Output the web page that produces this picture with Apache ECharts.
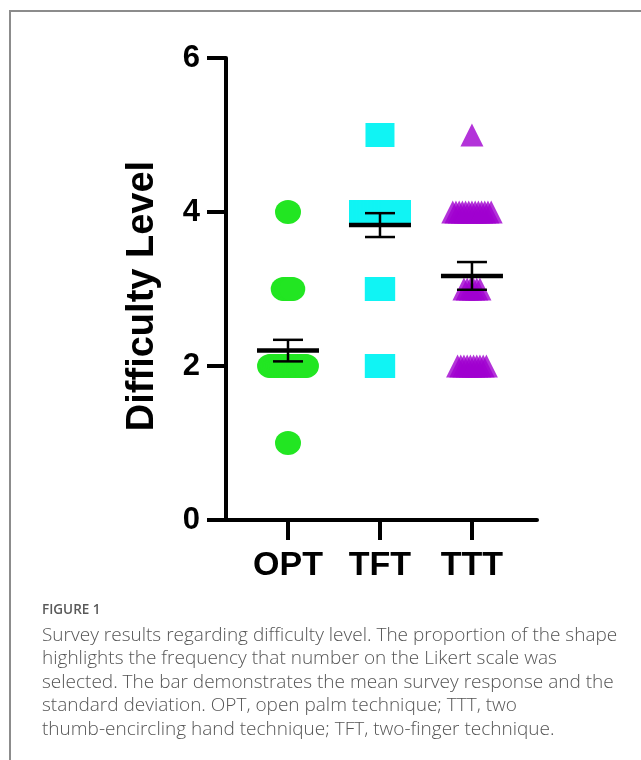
<!DOCTYPE html>
<html>
<head>
<meta charset="utf-8">
<script src="https://cdn.jsdelivr.net/npm/echarts@6/dist/echarts.min.js"></script>
<style>
  html, body { margin: 0; padding: 0; background: #fff; }
  #wrap { position: relative; width: 641px; height: 760px; overflow: hidden; }
  #chart { position: absolute; left: 0; top: 0; width: 641px; height: 760px; }
  #frame { position: absolute; left: 9px; top: 10px; width: 700px; height: 800px;
           border-top: 2px solid #8c8c8c; border-left: 2px solid #8c8c8c; pointer-events: none; }
  #caption { position: absolute; left: 42px; top: 598px; font-family: "Open Sans", sans-serif;
             color: #555; white-space: nowrap; }
  #caption .fig { font-size: 13.5px; font-weight: 600; color: #595959; line-height: 22px; margin-bottom: 3px; }
  #caption .ln { font-size: 19px; font-weight: 300; line-height: 23.4px; color: #555; }
</style>
</head>
<body>
<div id="wrap">
  <div id="chart"></div>
  <div id="frame"></div>
  <div id="caption">
    <div class="fig">FIGURE 1</div>
    <div class="ln">Survey results regarding difficulty level. The proportion of the shape</div>
    <div class="ln">highlights the frequency that number on the Likert scale was</div>
    <div class="ln">selected. The bar demonstrates the mean survey response and the</div>
    <div class="ln">standard deviation. OPT, open palm technique; TTT, two</div>
    <div class="ln">thumb-encircling hand technique; TFT, two-finger technique.</div>
  </div>
</div>
<script>
// ---- data ----
const categories = ['OPT', 'TFT', 'TTT'];
const categoryPositions = [1, 2, 3];
const likertValues = [1, 2, 3, 4, 5];
// number of responses at each Likert value (1..5) per technique
const countsOPT = [1, 22, 6, 1, 0];
const countsTFT = [0, 2, 2, 25, 1];
const countsTTT = [0, 10, 6, 13, 1];
const means = [2.2, 3.83, 3.17];
const errors = [0.14, 0.155, 0.18];
const yTicks = [0, 2, 4, 6];
const yAxisTitle = 'Difficulty Level';

// ---- styles ----
const FONT = '"Liberation Sans", Arial, sans-serif';

function buildPoints(catIdx, counts, spacing) {
  const pts = [];
  counts.forEach((n, k) => {
    for (let i = 0; i < n; i++) {
      pts.push({
        value: [categoryPositions[catIdx], likertValues[k]],
        symbolOffset: [(i - (n - 1) / 2) * spacing, 0]
      });
    }
  });
  return pts;
}

const chart = echarts.init(document.getElementById('chart'), null, { renderer: 'canvas' });

const errData = categoryPositions.map((p, i) => [p, means[i], errors[i]]);

chart.setOption({
  animation: false,
  backgroundColor: '#fff',
  grid: { left: 226, right: 104, top: 58, bottom: 240 },
  xAxis: {
    type: 'value',
    min: 0.326, max: 3.707,
    splitLine: { show: false },
    axisLine: { show: true, onZero: false, lineStyle: { color: '#000', width: 4 } },
    axisTick: { show: true, customValues: categoryPositions, length: 20, lineStyle: { color: '#000', width: 4 } },
    axisLabel: {
      customValues: categoryPositions,
      formatter: v => categories[categoryPositions.indexOf(Math.round(v))] || '',
      fontFamily: FONT, fontWeight: 'bold', fontSize: 34, color: '#000', margin: 29
    }
  },
  yAxis: {
    type: 'value',
    min: yTicks[0], max: yTicks[yTicks.length - 1], interval: 2,
    splitLine: { show: false },
    axisLine: { show: true, lineStyle: { color: '#000', width: 4 } },
    axisTick: { show: true, length: 19, lineStyle: { color: '#000', width: 4 } },
    axisLabel: { fontFamily: FONT, fontWeight: 'bold', fontSize: 31, color: '#000', margin: 26 },
    name: yAxisTitle,
    nameLocation: 'middle',
    nameGap: 64,
    nameTextStyle: { fontFamily: FONT, fontWeight: 'bold', fontSize: 38, color: '#000', padding: [0, 14, 0, 0] }
  },
  series: [
    {
      type: 'scatter', name: 'OPT', symbol: 'circle', symbolSize: [26, 24],
      itemStyle: { color: '#22e622', opacity: 1 }, z: 2,
      data: buildPoints(0, countsOPT, 1.71)
    },
    {
      type: 'scatter', name: 'TFT', symbol: 'rect', symbolSize: [29, 24],
      itemStyle: { color: '#10f4f4', opacity: 1 }, z: 2,
      data: buildPoints(1, countsTFT, 1.375)
    },
    {
      type: 'scatter', name: 'TTT', symbol: 'triangle', symbolSize: [23, 23],
      itemStyle: { color: '#a000d0', opacity: 0.8 }, z: 2,
      data: buildPoints(2, countsTTT, 3.2)
    },
    {
      type: 'custom', z: 5,
      data: errData,
      renderItem: function (params, api) {
        const x = api.value(0), m = api.value(1), e = api.value(2);
        const c = api.coord([x, m]);
        const hi = api.coord([x, m + e]);
        const lo = api.coord([x, m - e]);
        const halfBar = 31, halfCap = 15;
        const st = { stroke: '#000', lineWidth: 2.5, fill: null };
        return {
          type: 'group',
          children: [
            { type: 'line', shape: { x1: c[0] - halfBar, y1: c[1], x2: c[0] + halfBar, y2: c[1] }, style: { stroke: '#000', lineWidth: 4.5 } },
            { type: 'line', shape: { x1: c[0], y1: hi[1], x2: c[0], y2: lo[1] }, style: st },
            { type: 'line', shape: { x1: c[0] - halfCap, y1: hi[1], x2: c[0] + halfCap, y2: hi[1] }, style: st },
            { type: 'line', shape: { x1: c[0] - halfCap, y1: lo[1], x2: c[0] + halfCap, y2: lo[1] }, style: st }
          ]
        };
      }
    }
  ]
});
</script>
</body>
</html>
